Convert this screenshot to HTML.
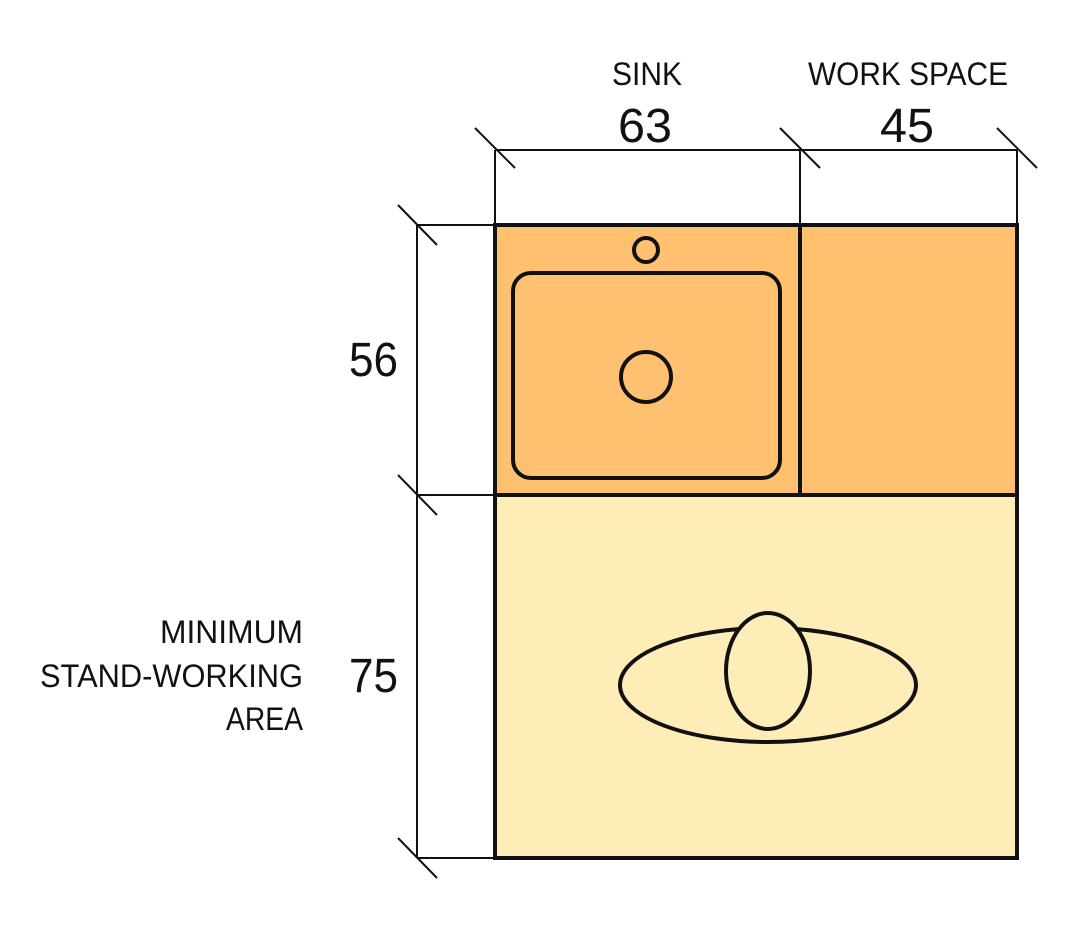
<!DOCTYPE html>
<html><head><meta charset="utf-8"><style>html,body{margin:0;padding:0;background:#fff}svg{display:block}text{font-family:"Liberation Sans",sans-serif;fill:#111}</style></head>
<body>
<svg width="1076" height="932" viewBox="0 0 1076 932" xmlns="http://www.w3.org/2000/svg">
<rect x="495" y="225" width="522" height="270" fill="#FFC170"/>
<rect x="495" y="495" width="522" height="363" fill="#FFEDB8"/>
<g stroke="#111" stroke-width="2" fill="none">
<line x1="495" y1="150" x2="1017" y2="150"/>
<line x1="495" y1="150" x2="495" y2="225"/>
<line x1="800" y1="150" x2="800" y2="225"/>
<line x1="1017" y1="150" x2="1017" y2="225"/>
<line x1="475" y1="128" x2="515" y2="168"/>
<line x1="780" y1="128" x2="820" y2="168"/>
<line x1="997" y1="128" x2="1037" y2="168"/>
<line x1="417" y1="225" x2="417" y2="858"/>
<line x1="417" y1="225" x2="495" y2="225"/>
<line x1="417" y1="495" x2="495" y2="495"/>
<line x1="417" y1="858" x2="495" y2="858"/>
<line x1="398" y1="205" x2="437" y2="245"/>
<line x1="398" y1="475" x2="437" y2="515"/>
<line x1="398" y1="838" x2="437" y2="878"/>
</g>
<g stroke="#111" stroke-width="4" fill="none">
<rect x="495" y="225" width="522" height="633"/>
<line x1="495" y1="495" x2="1017" y2="495"/>
<line x1="800" y1="225" x2="800" y2="495"/>
<rect x="513" y="273" width="267" height="205" rx="18"/>
<circle cx="646" cy="377" r="25"/>
<circle cx="646" cy="250" r="12"/>
<ellipse cx="768" cy="685" rx="148" ry="57"/>
<ellipse cx="768" cy="671" rx="42" ry="58" fill="#FFEDB8"/>
</g>
<g lengthAdjust="spacingAndGlyphs">
<text x="612" y="85" font-size="32" textLength="70" lengthAdjust="spacingAndGlyphs">SINK</text>
<text x="808" y="85" font-size="32" textLength="200" lengthAdjust="spacingAndGlyphs">WORK SPACE</text>
<text x="618" y="142" font-size="48" textLength="54" lengthAdjust="spacingAndGlyphs">63</text>
<text x="880" y="142" font-size="48" textLength="54" lengthAdjust="spacingAndGlyphs">45</text>
<text x="349" y="376" font-size="48" textLength="49" lengthAdjust="spacingAndGlyphs">56</text>
<text x="349" y="692" font-size="48" textLength="49" lengthAdjust="spacingAndGlyphs">75</text>
<text x="160" y="643" font-size="32" textLength="143" lengthAdjust="spacingAndGlyphs">MINIMUM</text>
<text x="40" y="687" font-size="32" textLength="263" lengthAdjust="spacingAndGlyphs">STAND-WORKING</text>
<text x="226" y="730" font-size="32" textLength="77" lengthAdjust="spacingAndGlyphs">AREA</text>
</g>
</svg>
</body></html>
